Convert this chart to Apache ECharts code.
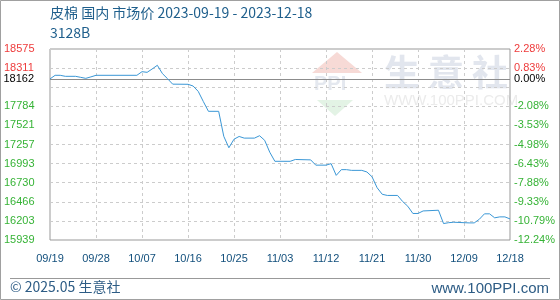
<!DOCTYPE html>
<html>
<head>
<meta charset="utf-8">
<script src="https://cdn.jsdelivr.net/npm/echarts@6/dist/echarts.min.js"></script>
<style>
html,body{margin:0;padding:0;background:#fff;}
#c{width:560px;height:300px;}
</style>
</head>
<body>
<div id="c"></div>
<script>
// ---- data ----
const dates = [
  '2023-09-19','2023-09-20','2023-09-21','2023-09-22','2023-09-24','2023-09-25','2023-09-26','2023-09-27','2023-09-28',
  '2023-10-06','2023-10-07','2023-10-08','2023-10-09','2023-10-10','2023-10-11','2023-10-12','2023-10-13','2023-10-16',
  '2023-10-17','2023-10-18','2023-10-19','2023-10-20','2023-10-22','2023-10-23','2023-10-24','2023-10-25','2023-10-26',
  '2023-10-27','2023-10-29','2023-10-30','2023-10-31','2023-11-01','2023-11-02','2023-11-05','2023-11-06','2023-11-09',
  '2023-11-10','2023-11-12','2023-11-13','2023-11-14','2023-11-15','2023-11-16','2023-11-17','2023-11-19','2023-11-20',
  '2023-11-21','2023-11-22','2023-11-23','2023-11-24','2023-11-26','2023-11-27','2023-11-28','2023-11-29','2023-11-30',
  '2023-12-01','2023-12-04','2023-12-05','2023-12-06','2023-12-07','2023-12-10','2023-12-11','2023-12-12','2023-12-13',
  '2023-12-14','2023-12-15','2023-12-16','2023-12-17','2023-12-18'
];
const prices = [
  18162,18212,18212,18198,18198,18184,18170,18190,18212,
  18212,18262,18253,18300,18350,18235,18165,18090,18088,
  18064,17990,17850,17715,17715,17370,17212,17330,17368,
  17345,17345,17378,17315,17150,17025,17025,17050,17045,
  16972,16972,16993,16831,16910,16910,16900,16900,16878,
  16812,16660,16570,16554,16554,16470,16405,16305,16305,
  16340,16350,16166,16178,16184,16175,16175,16225,16300,
  16300,16245,16258,16258,16230
];
const startDate = '2023-09-19';
const endDate = '2023-12-18';
const baseValue = 18162;
const basePct = '0.00%';
const priceMin = 15939;
const priceMax = 18575;
const xTickLabels = ['09/19','09/28','10/07','10/16','10/25','11/03','11/12','11/21','11/30','12/09','12/18'];
const leftTickLabels = ['15939','16203','16466','16730','16993','17257','17521','17784','','18311','18575'];
const rightTickLabels = ['-12.24%','-10.79%','-9.33%','-7.88%','-6.43%','-4.98%','-3.53%','-2.08%','','0.83%','2.28%'];
const titleText = '皮棉 国内 市场价 2023-09-19 - 2023-12-18';
const subText = '3128B';
const footerLeft = '© 2025.05 生意社';
const footerRight = 'www.100PPI.com';

// ---- chart ----
const chart = echarts.init(document.getElementById('c'), null, {renderer:'canvas'});
const seriesData = dates.map((d,i)=>[d, prices[i]]);
const FONT = '"Liberation Sans", Arial, sans-serif';
const RED = '#ee3b3b', GREEN = '#36b336';
const nTicks = leftTickLabels.length - 1;
function isUp(i){ return priceMin + (priceMax-priceMin)*i/nTicks > baseValue; }

const option = {
  animation:false,
  backgroundColor:'#fff',
  grid:{left:50,right:50,top:49,bottom:60,show:true,borderColor:'#999',borderWidth:1},
  graphic:[
    {type:'rect',z:-10,shape:{x:0.5,y:0.5,width:559,height:299},style:{fill:'none',stroke:'#a0a0a0',lineWidth:1}},
    {type:'text',left:50,top:6,style:{text:titleText,fill:'#1f5f8c',font:'14px "Noto Sans CJK SC", sans-serif'}},
    {type:'text',left:50,top:26,style:{text:subText,fill:'#1f5f8c',font:'14px "Noto Sans CJK SC", sans-serif'}},
    {type:'line',shape:{x1:10,y1:278.5,x2:550,y2:278.5},style:{stroke:'#999',lineWidth:1}},
    {type:'text',left:10,top:280,style:{text:footerLeft,fill:'#2d5c85',font:'14px "Noto Sans CJK SC", sans-serif'}},
    {type:'text',right:11,top:281,style:{text:footerRight,fill:'#2d5c85',font:'15px "Liberation Sans", sans-serif'}},
    // watermark
    {type:'polygon',z:-5,shape:{points:[[337,52],[312,73],[362,73]]},style:{fill:'#f7dad6'}},
    {type:'text',z:-5,left:314,top:74,style:{text:'PPI',fill:'#e4e8ef',font:'bold 20px "Liberation Sans", sans-serif'}},
    {type:'polygon',z:-5,shape:{points:[[317,100],[353,100],[335,116]]},style:{fill:'#e3f3e5'}},
    {type:'text',z:-5,left:384,top:54,style:{text:'生',fill:'#e2e6ee',font:'bold 36px "Noto Sans CJK SC", sans-serif'}},
    {type:'text',z:-5,left:428,top:54,style:{text:'意',fill:'#e2e6ee',font:'bold 36px "Noto Sans CJK SC", sans-serif'}},
    {type:'text',z:-5,left:472,top:54,style:{text:'社',fill:'#e2e6ee',font:'bold 36px "Noto Sans CJK SC", sans-serif'}},
    {type:'text',z:-5,left:384,top:93,style:{text:'WWW.100PPI.COM',fill:'#ebebeb',font:'15px "Liberation Sans", sans-serif'}}
  ],
  xAxis:[
    {type:'value',min:0,max:xTickLabels.length-1,interval:1,position:'bottom',
     axisLine:{show:false},axisTick:{show:false},
     splitLine:{show:true,lineStyle:{color:'#cccccc',type:[3,3],width:1}},
     axisLabel:{margin:13,color:'#124f7c',fontSize:11,fontFamily:FONT,
       formatter:(v)=>xTickLabels[Math.round(v)]||''}},
    {type:'time',show:false,min:startDate,max:endDate}
  ],
  yAxis:[
    {type:'value',min:0,max:nTicks,interval:1,position:'left',
     axisLine:{show:false},axisTick:{show:false},
     splitLine:{show:true,lineStyle:{color:'#cccccc',type:[3,3],width:1}},
     axisLabel:{align:'left',margin:46,fontSize:11,fontFamily:FONT,
       formatter:(v)=>{const i=Math.round(v);const t=leftTickLabels[i];if(!t)return '';return (isUp(i)?'{u|':'{d|')+t+'}';},
       rich:{u:{color:RED,fontSize:11,fontFamily:FONT},d:{color:GREEN,fontSize:11,fontFamily:FONT}}}},
    {type:'value',min:0,max:nTicks,interval:1,position:'right',
     axisLine:{show:false},axisTick:{show:false},splitLine:{show:false},
     axisLabel:{align:'left',margin:4,fontSize:11,fontFamily:FONT,
       formatter:(v)=>{const i=Math.round(v);const t=rightTickLabels[i];if(!t)return '';return (isUp(i)?'{u|':'{d|')+t+'}';},
       rich:{u:{color:RED,fontSize:11,fontFamily:FONT},d:{color:GREEN,fontSize:11,fontFamily:FONT}}}},
    {type:'value',show:false,min:priceMin,max:priceMax,position:'left'}
  ],
  series:[{
    type:'line',xAxisIndex:1,yAxisIndex:2,data:seriesData,
    showSymbol:false,symbol:'none',
    lineStyle:{color:'#3a97d6',width:1},
    z:5,
    markLine:{silent:true,symbol:'none',animation:false,
      lineStyle:{color:'#8c8c8c',type:'solid',width:1},
      data:[
        {yAxis:baseValue,label:{position:'start',distance:16,formatter:String(baseValue),color:'#000',fontSize:11,fontFamily:FONT}},
        {yAxis:baseValue,label:{position:'end',distance:4,formatter:basePct,color:'#000',fontSize:11,fontFamily:FONT}}
      ]}
  }]
};
chart.setOption(option);
</script>
</body>
</html>
